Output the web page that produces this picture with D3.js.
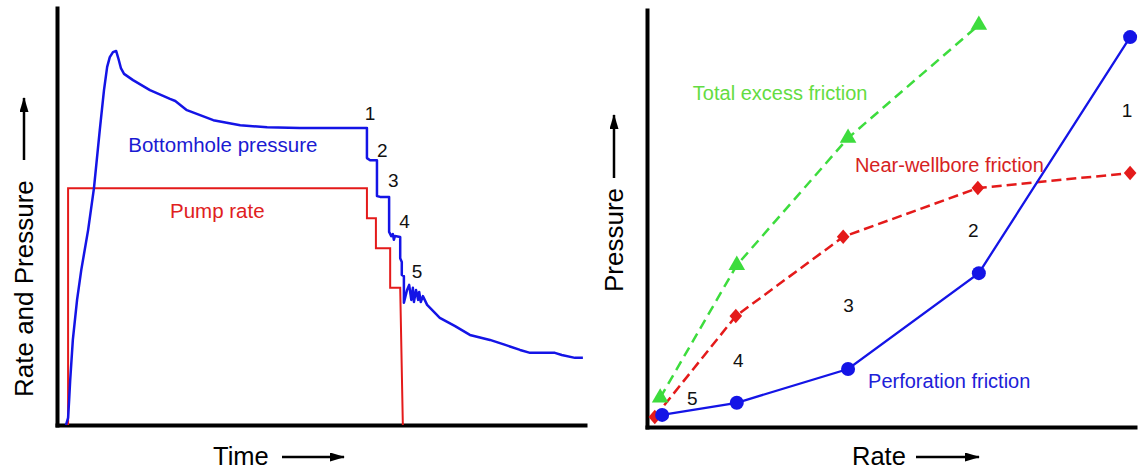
<!DOCTYPE html>
<html>
<head>
<meta charset="utf-8">
<script src="https://cdn.jsdelivr.net/npm/d3@7"></script>
<style>
  body { margin: 0; background: #fff; }
  svg { display: block; font-family: "Liberation Sans", Arial, Helvetica, sans-serif; }
</style>
</head>
<body>
<div id="chart"></div>
<script>
// ---- left panel: time history (arbitrary units 0-100) ----
const pumpTime = [2.1, 2.1, 58.7, 58.7, 60.4, 60.4, 63.1, 63.1, 65.0, 65.5];
const pumpRate = [0, 56.8, 56.8, 49.6, 49.6, 42.4, 42.4, 32.9, 32.9, 0];

const bhpTime = [1.7, 2.1, 2.3, 2.5, 3.0, 3.8, 4.6, 5.9, 7.0, 8.1, 8.9, 9.5, 10.0, 10.6, 11.2, 11.6,
  12.1, 12.7, 14.4, 17.6, 21.4, 22.4, 24.6, 29.6, 34.7, 39.8, 46.0, 58.7, 58.7, 59.3, 60.6, 60.6,
  61.2, 62.9, 62.9, 63.3, 63.6, 63.8, 64.0, 65.0, 65.0, 65.3, 65.3, 65.7, 65.7, 66.3, 66.7, 67.1,
  67.4, 67.6, 68.0, 68.4, 68.6, 68.9, 69.3, 70.1, 72.5, 75.4, 78.2, 82.0, 84.9, 87.7, 89.6, 94.3,
  95.6, 98.1, 99.6];
const bhpValue = [0, 1.7, 6.0, 10.8, 20.4, 30.0, 37.2, 46.8, 56.8, 70.7, 80.3, 85.9, 88.2, 89.4, 89.7, 88.0,
  85.6, 84.2, 82.7, 80.3, 78.2, 77.7, 75.5, 73.1, 71.9, 71.4, 71.2, 71.2, 64.0, 63.5, 63.5, 54.9,
  54.7, 54.7, 46.3, 45.3, 45.8, 44.4, 45.3, 45.1, 40.0, 39.1, 36.0, 35.7, 29.3, 32.4, 33.6, 30.0,
  32.9, 29.5, 32.4, 30.0, 31.9, 29.5, 30.9, 28.8, 25.7, 23.7, 21.6, 20.4, 19.2, 18.0, 17.3, 17.3,
  16.8, 16.1, 16.1];

const stepLabels = ["1", "2", "3", "4", "5"];
const stepLabelTime = [58.3, 60.6, 62.7, 64.8, 67.2];
const stepLabelValue = [73.1, 64.3, 57.1, 47.2, 35.3];

// ---- right panel: friction vs rate (arbitrary units 0-100) ----
const perfRate = [3.1, 18.4, 41.2, 68.0, 99.0];
const perfPressure = [2.9, 5.8, 13.9, 36.9, 93.5];
const nwbRate = [1.6, 18.2, 40.2, 67.8, 99.0];
const nwbPressure = [2.4, 26.6, 45.6, 57.3, 60.9];
const totalRate = [2.7, 18.4, 41.2, 68.0];
const totalPressure = [7.0, 38.8, 69.3, 96.4];

const rateLabelX = [97.3, 65.8, 40.2, 17.6, 8.2];
const rateLabelY = [74.3, 45.6, 27.6, 14.4, 5.3];

const W = 1139, H = 471;
const blue = "#1414e6", red = "#e41a1a", green = "#3ddc3d";

const svg = d3.select("#chart").append("svg")
    .attr("width", W)
    .attr("height", H);

// arrow head
svg.append("defs").append("marker")
    .attr("id", "arr")
    .attr("viewBox", "0 0 15 9")
    .attr("refX", 14).attr("refY", 4.5)
    .attr("markerWidth", 15).attr("markerHeight", 9)
    .attr("markerUnits", "userSpaceOnUse")
    .attr("orient", "auto")
    .append("path")
    .attr("d", "M0,0 L15,4.5 L0,9 Z")
    .attr("fill", "#000");

function drawFrame(x, y) {
    const gx = svg.append("g").attr("transform", `translate(0,${y.range()[0]})`)
        .call(d3.axisBottom(x).tickValues([]).tickSizeOuter(0));
    const gy = svg.append("g").attr("transform", `translate(${x.range()[0]},0)`)
        .call(d3.axisLeft(y).tickValues([]).tickSizeOuter(0));
    [gx, gy].forEach(g => g.select(".domain")
        .attr("stroke", "#000")
        .attr("stroke-width", 4)
        .attr("stroke-linecap", "square"));
}

function arrow(x1, y1, x2, y2) {
    svg.append("line")
        .attr("x1", x1).attr("y1", y1)
        .attr("x2", x2).attr("y2", y2)
        .attr("stroke", "#000").attr("stroke-width", 2.5)
        .attr("marker-end", "url(#arr)");
}

// ---------- left panel ----------
const xL = d3.scaleLinear().domain([0, 100]).range([57, 585]);
const yL = d3.scaleLinear().domain([0, 100]).range([425, 8]);

drawFrame(xL, yL);

const lineL = d3.line().x(d => xL(d[0])).y(d => yL(d[1]));

svg.append("path")
    .datum(d3.zip(pumpTime, pumpRate))
    .attr("d", lineL)
    .attr("fill", "none")
    .attr("stroke", red)
    .attr("stroke-width", 2);

svg.append("path")
    .datum(d3.zip(bhpTime, bhpValue))
    .attr("d", lineL)
    .attr("fill", "none")
    .attr("stroke", blue)
    .attr("stroke-width", 2.5)
    .attr("stroke-linejoin", "round");

svg.append("g").selectAll("text")
    .data(stepLabels)
    .join("text")
    .attr("x", (d, i) => xL(stepLabelTime[i]))
    .attr("y", (d, i) => yL(stepLabelValue[i]))
    .attr("font-size", 19)
    .attr("fill", "#111")
    .text(d => d);

svg.append("text")
    .attr("x", xL(13.5)).attr("y", yL(65.5))
    .attr("font-size", 20.5).attr("fill", "#1a1ad2")
    .text("Bottomhole pressure");

svg.append("text")
    .attr("x", xL(21.4)).attr("y", yL(49.6))
    .attr("font-size", 20.5).attr("fill", "#e02020")
    .text("Pump rate");

// axis titles (left)
svg.append("text")
    .attr("x", 213).attr("y", 465)
    .attr("font-size", 25.5)
    .text("Time");
arrow(282, 457, 344, 457);

svg.append("text")
    .attr("transform", "translate(33,397) rotate(-90)")
    .attr("font-size", 26)
    .text("Rate and Pressure");
arrow(24, 160, 24, 98);

// ---------- right panel ----------
const xR = d3.scaleLinear().domain([0, 100]).range([647, 1135]);
const yR = d3.scaleLinear().domain([0, 100]).range([427, 10]);

drawFrame(xR, yR);

const lineR = d3.line().x(d => xR(d[0])).y(d => yR(d[1]));

svg.append("path")
    .datum(d3.zip(totalRate, totalPressure))
    .attr("d", lineR)
    .attr("fill", "none")
    .attr("stroke", green)
    .attr("stroke-width", 2.5)
    .attr("stroke-dasharray", "10,6");

svg.append("path")
    .datum(d3.zip(nwbRate, nwbPressure))
    .attr("d", lineR)
    .attr("fill", "none")
    .attr("stroke", red)
    .attr("stroke-width", 2.5)
    .attr("stroke-dasharray", "10,5");

svg.append("path")
    .datum(d3.zip(perfRate, perfPressure))
    .attr("d", lineR)
    .attr("fill", "none")
    .attr("stroke", blue)
    .attr("stroke-width", 2.3);

svg.append("g").selectAll("path")
    .data(d3.zip(totalRate, totalPressure))
    .join("path")
    .attr("transform", d => `translate(${xR(d[0])},${yR(d[1])})`)
    .attr("d", d3.symbol(d3.symbolTriangle, 120))
    .attr("fill", green);

svg.append("g").selectAll("path")
    .data(d3.zip(nwbRate, nwbPressure))
    .join("path")
    .attr("transform", d => `translate(${xR(d[0])},${yR(d[1])}) scale(1,1.15) rotate(45)`)
    .attr("d", d3.symbol(d3.symbolSquare, 80))
    .attr("fill", red);

svg.append("g").selectAll("circle")
    .data(d3.zip(perfRate, perfPressure))
    .join("circle")
    .attr("cx", d => xR(d[0]))
    .attr("cy", d => yR(d[1]))
    .attr("r", 7)
    .attr("fill", blue);

svg.append("g").selectAll("text")
    .data(stepLabels)
    .join("text")
    .attr("x", (d, i) => xR(rateLabelX[i]))
    .attr("y", (d, i) => yR(rateLabelY[i]))
    .attr("font-size", 19)
    .attr("fill", "#111")
    .text(d => d);

svg.append("text")
    .attr("x", xR(9.4)).attr("y", yR(78.4))
    .attr("font-size", 20).attr("fill", "#63dc42")
    .text("Total excess friction");

svg.append("text")
    .attr("x", xR(42.6)).attr("y", yR(61.2))
    .attr("font-size", 20).attr("fill", "#d62222")
    .text("Near-wellbore friction");

svg.append("text")
    .attr("x", xR(45.3)).attr("y", yR(9.4))
    .attr("font-size", 20).attr("fill", "#2020d8")
    .text("Perforation friction");

// axis titles (right)
svg.append("text")
    .attr("x", 852).attr("y", 465)
    .attr("font-size", 25.5)
    .text("Rate");
arrow(916, 457, 979, 457);

svg.append("text")
    .attr("transform", "translate(623,292) rotate(-90)")
    .attr("font-size", 26)
    .text("Pressure");
arrow(614, 178, 614, 115);
</script>
</body>
</html>
